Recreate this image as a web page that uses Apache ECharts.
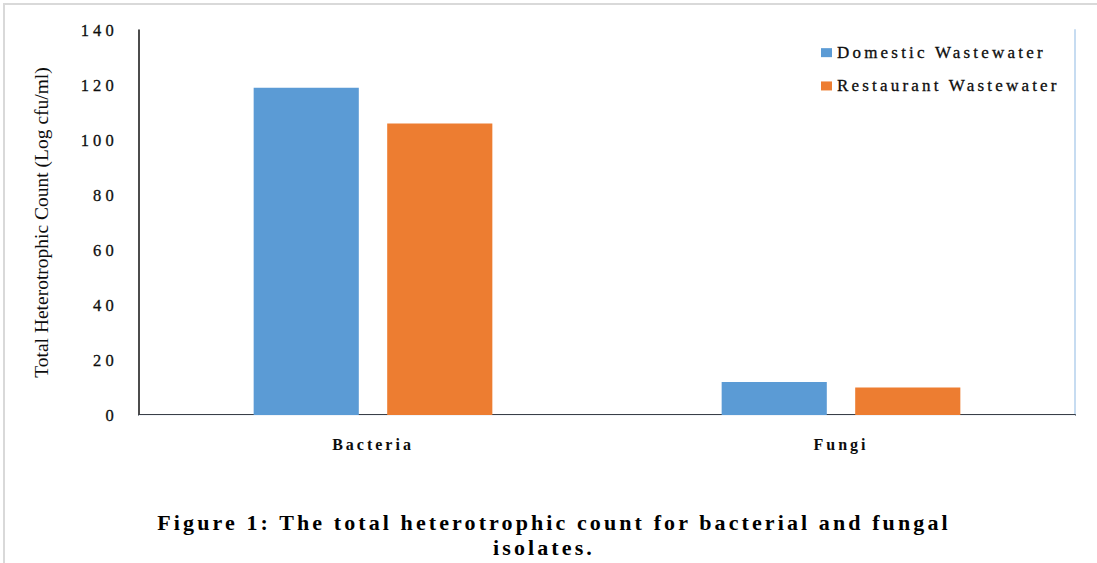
<!DOCTYPE html>
<html>
<head>
<meta charset="utf-8">
<script src="https://cdn.jsdelivr.net/npm/echarts@6/dist/echarts.min.js"></script>
<style>
  html, body { margin: 0; padding: 0; background: #ffffff; }
  #chart { width: 1097px; height: 563px; }
  /* widen the serif lettering per text role (SVG renderer text nodes) */
  #chart text[style*="16.5px"] { letter-spacing: 4.2px; }
  #chart text[style*="16px"] { letter-spacing: 3px; }
  #chart text[style*="17px"] { letter-spacing: 3.2px; }
  #chart text[style*="22px"] { letter-spacing: 3.1px; }
</style>
</head>
<body>
<div id="chart"></div>
<script>
// Isolate groups and counts per wastewater source
const categories = ['Bacteria', 'Fungi'];
const seriesNames = ['Domestic Wastewater', 'Restaurant Wastewater'];
const domestic = [119, 12];
const restaurant = [106, 10];

// Value axis range
const yMin = 0;
const yMax = 140;
const yStep = 20;

const yTitle = 'Total Heterotrophic Count (Log cfu/ml)';
const captionLine1 = 'Figure 1: The total heterotrophic count for bacterial and fungal';
const captionLine2 = 'isolates.';

const serif = '"Liberation Serif", "Times New Roman", serif';
const ink = '#0d0d0d';

const chart = echarts.init(document.getElementById('chart'), null, { renderer: 'svg' });

chart.setOption({
  backgroundColor: '#ffffff',
  animation: false,
  grid: { left: 139, right: 22, top: 30, bottom: 148, containLabel: false },
  legend: {
    orient: 'vertical',
    left: 816,
    top: 39,
    itemWidth: 11,
    itemHeight: 9,
    itemGap: 16,
    icon: 'rect',
    textStyle: { fontFamily: serif, fontSize: 17, color: ink, textBorderColor: ink, textBorderWidth: 0.3 },
    data: seriesNames
  },
  xAxis: [{
    type: 'category',
    data: categories,
    axisLine: { show: true, lineStyle: { color: '#3a3f47', width: 2 } },
    axisTick: { show: false },
    axisLabel: { fontFamily: serif, fontSize: 16, fontWeight: 'bold', color: ink, margin: 21 }
  }, {
    type: 'category',
    position: 'top',
    data: categories,
    axisLine: { show: true, lineStyle: { color: '#f1f4f8', width: 1 } },
    axisTick: { show: false },
    axisLabel: { show: false }
  }],
  yAxis: [{
    type: 'value',
    min: yMin,
    max: yMax,
    interval: yStep,
    name: yTitle,
    nameLocation: 'middle',
    nameGap: 88,
    nameTextStyle: { fontFamily: serif, fontSize: 19.5, color: ink },
    axisLine: { show: true, lineStyle: { color: '#111111', width: 1.5 } },
    axisTick: { show: false },
    splitLine: { show: false },
    axisLabel: { fontFamily: serif, fontSize: 16.5, color: ink, margin: 21, textBorderColor: ink, textBorderWidth: 0.3 }
  }, {
    type: 'value',
    position: 'right',
    min: yMin,
    max: yMax,
    interval: yStep,
    axisLine: { show: true, lineStyle: { color: '#c7dcf1', width: 2 } },
    axisTick: { show: false },
    splitLine: { show: false },
    axisLabel: { show: false }
  }],
  series: [{
    name: seriesNames[0],
    type: 'bar',
    data: domestic,
    barGap: '27%',
    barCategoryGap: '49%',
    itemStyle: { color: '#5b9bd5' }
  }, {
    name: seriesNames[1],
    type: 'bar',
    data: restaurant,
    barGap: '27%',
    barCategoryGap: '49%',
    itemStyle: { color: '#ed7d31' }
  }],
  graphic: [
    // faint frame along the top and left edges of the figure
    { type: 'line', shape: { x1: 3, y1: 4, x2: 1097, y2: 4 }, style: { stroke: '#d9d9d9', lineWidth: 2 } },
    { type: 'line', shape: { x1: 4, y1: 3, x2: 4, y2: 563 }, style: { stroke: '#d9d9d9', lineWidth: 2 } },
    // figure caption
    {
      type: 'text', x: 554, y: 511,
      style: { text: captionLine1, font: 'bold 22px ' + serif, fill: '#000000', textAlign: 'center' }
    },
    {
      type: 'text', x: 544, y: 536,
      style: { text: captionLine2, font: 'bold 22px ' + serif, fill: '#000000', textAlign: 'center' }
    }
  ]
});
</script>
</body>
</html>
